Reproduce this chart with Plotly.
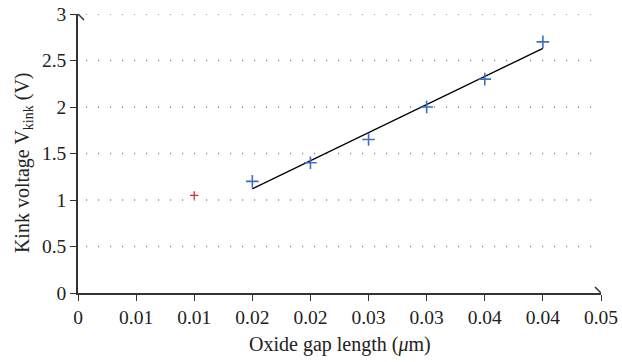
import plotly.graph_objects as go

# Data
x_tickvals = [0, 0.005, 0.01, 0.015, 0.02, 0.025, 0.03, 0.035, 0.04, 0.045]
x_ticktext = ["0", "0.01", "0.01", "0.02", "0.02", "0.03", "0.03", "0.04", "0.04", "0.05"]
y_tickvals = [0, 0.5, 1, 1.5, 2, 2.5, 3]
y_ticktext = ["0", "0.5", "1", "1.5", "2", "2.5", "3"]

red_x = [0.01]
red_y = [1.05]

blue_x = [0.015, 0.02, 0.025, 0.03, 0.035, 0.04]
blue_y = [1.2, 1.4, 1.65, 2.0, 2.3, 2.7]

fit_x = [0.015, 0.04]
fit_y = [1.12, 2.63]

FONT = "Liberation Serif"
AXC = "#333333"
TXT = "#222222"

fig = go.Figure()
fig.add_trace(go.Scatter(x=fit_x, y=fit_y, mode="lines",
                         line=dict(color="black", width=1.4), showlegend=False))
fig.add_trace(go.Scatter(x=blue_x, y=blue_y, mode="markers",
                         marker=dict(symbol="cross-thin", size=9,
                                     line=dict(color="#3f6fc0", width=1.6)),
                         showlegend=False))
fig.add_trace(go.Scatter(x=red_x, y=red_y, mode="markers",
                         marker=dict(symbol="cross-thin", size=6,
                                     line=dict(color="#d42e2e", width=1.3)),
                         showlegend=False))

fig.update_layout(
    width=622, height=362,
    margin=dict(l=78, r=21, t=14, b=69),
    paper_bgcolor="white", plot_bgcolor="white",
    font=dict(family=FONT, size=19.5, color=TXT),
    xaxis=dict(range=[0, 0.045], tickvals=x_tickvals, ticktext=x_ticktext,
               showgrid=False, zeroline=False, showline=True, linecolor=AXC,
               linewidth=1.5, ticks="outside", ticklen=6, tickcolor=AXC,
               tickwidth=1.2, automargin=False, ticklabeloverflow="allow"),
    yaxis=dict(range=[0, 3], tickvals=y_tickvals, ticktext=y_ticktext,
               showgrid=False, zeroline=False, showline=True, linecolor=AXC,
               linewidth=1.5, ticks="outside", ticklen=6, tickcolor=AXC,
               tickwidth=1.2, automargin=False, ticklabeloverflow="allow"),
)

# axis titles
fig.add_annotation(text="Oxide gap length (<i>μ</i>m)", xref="paper", yref="paper",
                   x=0.5, y=-0.186, xanchor="center", yanchor="middle",
                   showarrow=False, font=dict(family=FONT, size=20, color=TXT))
fig.add_annotation(text="Kink voltage V<sub>kink</sub> (V)", xref="paper", yref="paper",
                   x=-0.103, y=0.466, xanchor="center", yanchor="middle",
                   textangle=-90, showarrow=False,
                   font=dict(family=FONT, size=20, color=TXT))

# dotted horizontal gridlines
for yv in y_tickvals[1:]:
    fig.add_shape(type="line", xref="x", yref="y", x0=0.0007, x1=0.0446,
                  y0=yv, y1=yv, line=dict(color="#777777", width=1.3, dash="1px,11px"),
                  layer="below")

# arrow heads (open chevrons)
fig.add_shape(type="path", xref="x", yref="y", xsizemode="pixel", ysizemode="pixel",
              xanchor=0.045, yanchor=0, path="M -6,-6 L 0,0 L -6,6",
              line=dict(color=AXC, width=1.5))
fig.add_shape(type="path", xref="x", yref="y", xsizemode="pixel", ysizemode="pixel",
              xanchor=0, yanchor=3, path="M -6,-6 L 0,0 L 6,-6",
              line=dict(color=AXC, width=1.5))

fig.write_html("out.html",
               config={"displayModeBar": False},
               post_script="document.body.style.margin='0';document.body.style.overflow='hidden';")
